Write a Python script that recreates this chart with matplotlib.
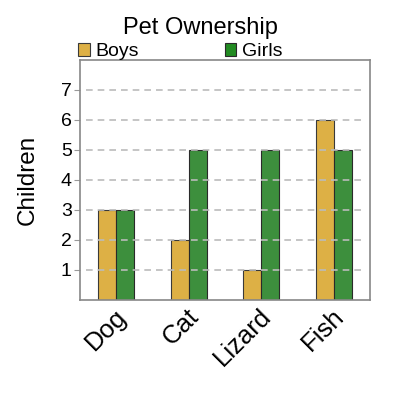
import matplotlib
matplotlib.use("Agg")
import numpy as np
import matplotlib.pyplot as plt

plt.rcParams['font.family'] = ['Liberation Sans', 'DejaVu Sans']

pets = ["Dog", "Cat", "Lizard", "Fish"]
boys = [3, 2, 1, 6]
girls = [3, 5, 5, 5]
yticks = [1, 2, 3, 4, 5, 6, 7]

fig = plt.figure(figsize=(4, 4), dpi=100)
ax = fig.add_axes([0.2, 0.25, 0.725, 0.6])
x = np.arange(len(pets)); w = 0.25
ax.bar(x - w / 2, boys, w, color="#DDB045", edgecolor="#3a3a3a", lw=0.8, label="Boys", zorder=2)
ax.bar(x + w / 2, girls, w, color="#3D8F3D", edgecolor="#2a2a2a", lw=0.8, label="Girls", zorder=2)
for y in yticks:
    ax.axhline(y, xmin=0.02, xmax=0.97, color="#bbbbbb", ls=(0, (4, 3)), lw=1.2, zorder=3)
ax.set_xlim(-0.5, 3.5); ax.set_ylim(0, 8)
ax.set_yticks(yticks); ax.set_yticklabels([str(v) for v in yticks], fontsize=14)
ax.set_xticks(x - 0.03); ax.set_xticklabels(pets, rotation=45, ha="right", rotation_mode="anchor", fontsize=18.5)
ax.tick_params(axis="x", length=0, pad=3)
ax.tick_params(axis="y", length=4, color="#999999", pad=2)
for s in ax.spines.values():
    s.set_color("#888888"); s.set_linewidth(1.2)
ax.set_ylabel("Children", fontsize=17.5, labelpad=16)
fig.text(0.5, 0.93, "Pet Ownership", ha="center", va="center", fontsize=17)
ax.legend(loc="lower left", bbox_to_anchor=(-0.01, 0.995), ncol=2, frameon=False, fontsize=14,
          handlelength=0.6, handleheight=0.6, handletextpad=0.3, columnspacing=4.4, borderaxespad=0,
          borderpad=0.05)
leg = ax.get_legend()
leg.legend_handles[1].set_facecolor("#228B22")
fig.savefig("out.png", dpi=100)
